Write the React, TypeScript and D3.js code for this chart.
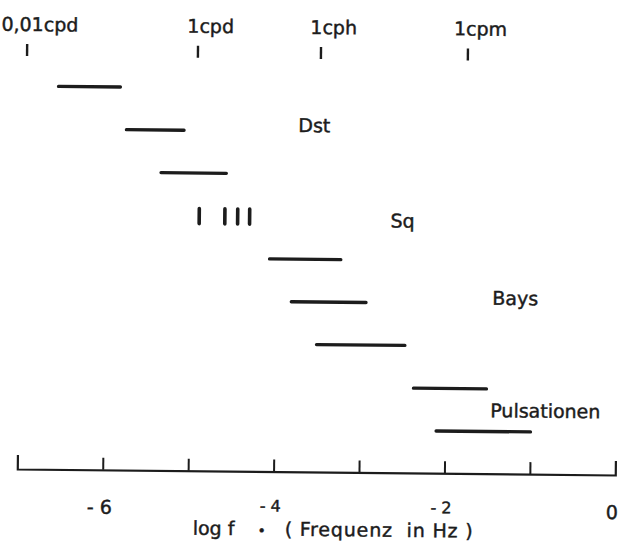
import { useEffect, useRef } from "react";
import * as d3 from "d3";

// ---------------------------------------------------------------------------
// Data (x in log10 of frequency in Hz)
// ---------------------------------------------------------------------------

const BAND_ROWS = [0, 1, 2, 4, 5, 6, 7, 8];
const BAND_START = [-6.58, -5.78, -5.37, -4.09, -3.83, -3.53, -2.39, -2.12];
const BAND_END = [-5.82, -5.07, -4.57, -3.22, -2.92, -2.46, -1.5, -0.98];

// tidal lines (Sq row)
const TIDE_ROW = 3;
const TIDE_LINES = [-4.9, -4.6, -4.45, -4.31];

const PERIOD_TICKS = [-6.94, -4.94, -3.5, -1.78];
const PERIOD_LABELS = ["0,01cpd", "1cpd", "1cph", "1cpm"];

const PROCESS_LABELS = ["Dst", "Sq", "Bays", "Pulsationen"];
const PROCESS_X = [-3.75, -2.66, -1.46, -1.47];
const PROCESS_ROW = [0.85, 3.07, 4.86, 7.5];

const AXIS_TICKS = [-6, -5, -4, -3, -2, -1];
const AXIS_LABELS = [-6, -4, -2, 0];

const INK = "#1c1c1c";
const FONT = "'DejaVu Sans', sans-serif";

// -4 and -2 sit squeezed above the axis title in the scan
const isInner = (d: number) => d === -4 || d === -2;

export default function App() {
  const svgRef = useRef<SVGSVGElement>(null);
  const width = 621;
  const height = 543;

  useEffect(() => {
    const svg = d3.select(svgRef.current);
    svg.selectAll("*").remove();

    // the scan is tilted a little, so everything sits in a rotated group
    const g = svg.append("g").attr("transform", "rotate(0.573,318,300)");

    const x = d3.scaleLinear().domain([-7, 0]).range([19, 617]);
    const y = d3.scaleLinear().domain([0, 8]).range([89, 429.8]);
    const axisY = 472;

    // ---- Bottom axis ----
    g.append("g")
      .attr("transform", `translate(0,${axisY})`)
      .call(
        d3
          .axisTop(x)
          .tickValues(AXIS_TICKS)
          .tickSizeInner(12)
          .tickSizeOuter(14)
          .tickFormat(() => "")
      )
      .call((sel) => sel.select(".domain").attr("stroke", INK).attr("stroke-width", 2.2))
      .call((sel) => sel.selectAll(".tick line").attr("stroke", INK).attr("stroke-width", 2))
      .call((sel) => sel.selectAll(".tick text").remove());

    const texts = g
      .append("g")
      .attr("font-family", FONT)
      .attr("fill", INK)
      .attr("stroke", INK)
      .attr("stroke-width", 0.45);

    texts
      .append("g")
      .selectAll("text")
      .data(AXIS_LABELS)
      .join("text")
      .attr("x", (d) => x(d) - 3)
      .attr("y", (d) => (isInner(d) ? 512 : 516))
      .attr("text-anchor", "middle")
      .attr("font-size", (d) => (isInner(d) ? 16 : 19))
      .style("white-space", "pre")
      .text((d) => (d < 0 ? `- ${-d}` : `${d}`));

    // axis title
    texts.append("text").attr("x", 195).attr("y", 536).attr("font-size", 19).text("log f");
    texts
      .append("text")
      .attr("x", 264)
      .attr("y", 536)
      .attr("text-anchor", "middle")
      .attr("font-size", 14)
      .text("•");
    texts
      .append("text")
      .attr("x", 287)
      .attr("y", 536)
      .attr("font-size", 19)
      .attr("textLength", 188)
      .style("white-space", "pre")
      .text("( Frequenz  in Hz )");

    // ---- Top period axis ----
    g.append("g")
      .attr("transform", "translate(0,47)")
      .call(d3.axisBottom(x).tickValues(PERIOD_TICKS).tickSize(12).tickFormat(() => ""))
      .call((sel) => sel.select(".domain").remove())
      .call((sel) => sel.selectAll(".tick line").attr("stroke", INK).attr("stroke-width", 2.4))
      .call((sel) => sel.selectAll(".tick text").remove());

    texts
      .append("g")
      .selectAll("text")
      .data(PERIOD_TICKS)
      .join("text")
      .attr("x", (d) => x(d) + 13)
      .attr("y", 34)
      .attr("text-anchor", "middle")
      .attr("font-size", 19)
      .text((_d, i) => PERIOD_LABELS[i]);

    // ---- Frequency bands ----
    g.append("g")
      .selectAll("line")
      .data(BAND_ROWS)
      .join("line")
      .attr("x1", (_d, i) => x(BAND_START[i]) + 1.5)
      .attr("x2", (_d, i) => x(BAND_END[i]) - 1.5)
      .attr("y1", (d) => y(d))
      .attr("y2", (d) => y(d))
      .attr("stroke", INK)
      .attr("stroke-width", 3.3)
      .attr("stroke-linecap", "round");

    // tidal lines
    g.append("g")
      .selectAll("line")
      .data(TIDE_LINES)
      .join("line")
      .attr("x1", (d) => x(d))
      .attr("x2", (d) => x(d))
      .attr("y1", y(TIDE_ROW) - 7)
      .attr("y2", y(TIDE_ROW) + 8)
      .attr("stroke", INK)
      .attr("stroke-width", 3.6)
      .attr("stroke-linecap", "round");

    // ---- Process labels ----
    texts
      .append("g")
      .selectAll("text")
      .data(PROCESS_LABELS)
      .join("text")
      .attr("x", (_d, i) => x(PROCESS_X[i]))
      .attr("y", (_d, i) => y(PROCESS_ROW[i]) + 7)
      .attr("font-size", 19)
      .text((d) => d);
  }, []);

  return (
    <div style={{ position: "absolute", left: 0, top: 0, width, height, background: "#fff" }}>
      <svg ref={svgRef} width={width} height={height} style={{ display: "block" }} />
    </div>
  );
}
